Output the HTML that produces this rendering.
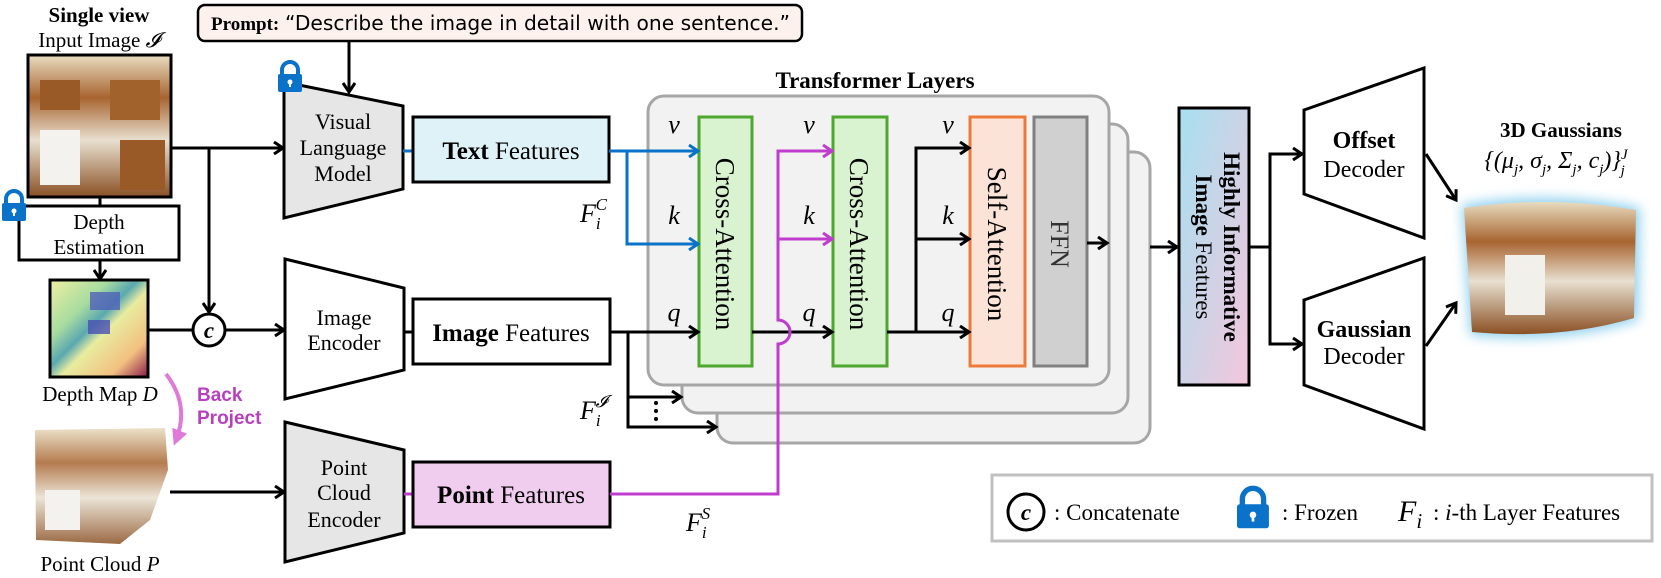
<!DOCTYPE html>
<html><head><meta charset="utf-8"><style>
html,body{margin:0;padding:0;background:#fff;}
svg{display:block;}
text{font-family:"Liberation Serif",serif;}
</style></head><body>
<svg width="1661" height="578" viewBox="0 0 1661 578" xmlns="http://www.w3.org/2000/svg">
<defs>
<marker id="ak" markerWidth="14" markerHeight="14" refX="11" refY="7" orient="auto" markerUnits="userSpaceOnUse"><path d="M2,1 L11,7 L2,13" fill="none" stroke="#000" stroke-width="3"/></marker>
<marker id="ab" markerWidth="14" markerHeight="14" refX="11" refY="7" orient="auto" markerUnits="userSpaceOnUse"><path d="M2,1 L11,7 L2,13" fill="none" stroke="#0a72c8" stroke-width="3"/></marker>
<marker id="ap" markerWidth="14" markerHeight="14" refX="11" refY="7" orient="auto" markerUnits="userSpaceOnUse"><path d="M2,1 L11,7 L2,13" fill="none" stroke="#c03ccf" stroke-width="3"/></marker>
<marker id="apk" markerWidth="20" markerHeight="20" refX="10" refY="10" orient="auto" markerUnits="userSpaceOnUse"><path d="M0,2 L16,10 L0,18 Z" fill="#e07ad8"/></marker>
<linearGradient id="hif" x1="0" y1="0" x2="1" y2="1"><stop offset="0" stop-color="#a6e0f0"/><stop offset="1" stop-color="#f4c6dc"/></linearGradient>
<linearGradient id="dm" x1="0" y1="0" x2="1" y2="1"><stop offset="0" stop-color="#f0f0a0"/><stop offset="0.3" stop-color="#a8dca0"/><stop offset="0.45" stop-color="#5aa8b0"/><stop offset="0.55" stop-color="#e8eca0"/><stop offset="0.8" stop-color="#f2c080"/><stop offset="1" stop-color="#8a1a4a"/></linearGradient>
<linearGradient id="kit" x1="0" y1="0" x2="0" y2="1"><stop offset="0" stop-color="#e8dcc0"/><stop offset="0.3" stop-color="#a86430"/><stop offset="0.6" stop-color="#e8e0d0"/><stop offset="1" stop-color="#8a5024"/></linearGradient>
<filter id="glow"><feGaussianBlur stdDeviation="6"/></filter>
<g id="lock"><path d="M4,14 V9 A8,8 0 0 1 20,9 V14" fill="none" stroke="#0a72c8" stroke-width="4"/><rect x="0" y="13" width="24" height="18" rx="2" fill="#0a72c8"/><circle cx="12" cy="21" r="2.5" fill="#fff"/><rect x="11" y="21" width="2" height="5" fill="#fff"/></g>
</defs>

<!-- Left column -->
<text x="99" y="22" text-anchor="middle" font-size="21" font-weight="bold">Single view</text>
<text x="99" y="47" text-anchor="middle" font-size="21">Input Image <tspan font-style="italic">𝓘</tspan></text>
<rect x="28" y="55" width="143" height="142" fill="url(#kit)" stroke="#000" stroke-width="3"/>
<rect x="40" y="80" width="40" height="30" fill="#9a5a28"/><rect x="110" y="80" width="50" height="40" fill="#a2622c"/>
<rect x="40" y="130" width="40" height="55" fill="#f4f2ee"/><rect x="120" y="140" width="45" height="50" fill="#9a5a28"/>
<line x1="100" y1="197" x2="100" y2="206" stroke="#000" stroke-width="3"/>
<rect x="19" y="206" width="160" height="54" fill="#fff" stroke="#000" stroke-width="3"/>
<text x="99" y="229" text-anchor="middle" font-size="21">Depth</text>
<text x="99" y="254" text-anchor="middle" font-size="21">Estimation</text>
<use href="#lock" x="2" y="190"/>
<line x1="100" y1="260" x2="100" y2="279" stroke="#000" stroke-width="3" marker-end="url(#ak)"/>
<rect x="50" y="280" width="98" height="97" fill="url(#dm)" stroke="#000" stroke-width="3"/>
<rect x="90" y="292" width="30" height="18" fill="#5060b8" opacity="0.8"/>
<rect x="88" y="320" width="22" height="14" fill="#4a50b0" opacity="0.8"/>
<text x="100" y="401" text-anchor="middle" font-size="21">Depth Map <tspan font-style="italic">D</tspan></text>
<path d="M166,374 Q190,405 176,440" fill="none" stroke="#e07ad8" stroke-width="4" marker-end="url(#apk)"/>
<text x="197" y="401" font-size="19" font-weight="bold" fill="#b840c0" style="font-family:'Liberation Sans',sans-serif">Back</text>
<text x="197" y="424" font-size="19" font-weight="bold" fill="#b840c0" style="font-family:'Liberation Sans',sans-serif">Project</text>
<path d="M35,430 L165,428 L168,470 L150,520 L120,544 L36,540 Z" fill="url(#kit)" opacity="0.85"/>
<rect x="45" y="490" width="35" height="40" fill="#f4f2ee"/>
<text x="100" y="571" text-anchor="middle" font-size="21">Point Cloud <tspan font-style="italic">P</tspan></text>

<!-- connectors left -->
<line x1="171" y1="148" x2="283" y2="148" stroke="#000" stroke-width="3" marker-end="url(#ak)"/>
<line x1="209" y1="148" x2="209" y2="312" stroke="#000" stroke-width="3" marker-end="url(#ak)"/>
<line x1="148" y1="330" x2="193" y2="330" stroke="#000" stroke-width="3"/>
<circle cx="209" cy="330" r="16" fill="#fff" stroke="#000" stroke-width="3"/>
<text x="209" y="338" text-anchor="middle" font-size="23" font-weight="bold" font-style="italic">c</text>
<line x1="225" y1="330" x2="284" y2="330" stroke="#000" stroke-width="3" marker-end="url(#ak)"/>
<line x1="170" y1="492" x2="284" y2="492" stroke="#000" stroke-width="3" marker-end="url(#ak)"/>

<!-- Prompt -->
<rect x="198" y="5" width="604" height="36" rx="7" fill="#fdf1ee" stroke="#000" stroke-width="2.5"/>
<text x="211" y="30" font-size="19" font-weight="bold">Prompt:</text>
<text x="285" y="30" font-size="20" style="font-family:'DejaVu Sans',sans-serif" textLength="505" lengthAdjust="spacingAndGlyphs">“Describe the image in detail with one sentence.”</text>
<line x1="349" y1="41" x2="349" y2="92" stroke="#000" stroke-width="3" marker-end="url(#ak)"/>

<!-- Encoders -->
<polygon points="284,82 403,106 403,189 284,218" fill="#e6e6e6" stroke="#000" stroke-width="3"/>
<use href="#lock" x="278" y="61"/>
<text x="343" y="129" text-anchor="middle" font-size="22">Visual</text>
<text x="343" y="155" text-anchor="middle" font-size="22">Language</text>
<text x="343" y="181" text-anchor="middle" font-size="22">Model</text>
<polygon points="285,259 404,288 404,370 285,399" fill="#fff" stroke="#000" stroke-width="3"/>
<text x="344" y="325" text-anchor="middle" font-size="22">Image</text>
<text x="344" y="350" text-anchor="middle" font-size="22">Encoder</text>
<polygon points="285,422 404,450 404,533 285,562" fill="#e6e6e6" stroke="#000" stroke-width="3"/>
<text x="344" y="475" text-anchor="middle" font-size="22">Point</text>
<text x="344" y="500" text-anchor="middle" font-size="22">Cloud</text>
<text x="344" y="527" text-anchor="middle" font-size="22">Encoder</text>

<line x1="403" y1="151" x2="413" y2="151" stroke="#0a72c8" stroke-width="3"/>
<line x1="404" y1="332" x2="413" y2="332" stroke="#000" stroke-width="3"/>
<line x1="404" y1="494" x2="413" y2="494" stroke="#c03ccf" stroke-width="3"/>
<rect x="413" y="117" width="196" height="65" fill="#dff2f7" stroke="#000" stroke-width="3"/>
<text x="511" y="159" text-anchor="middle" font-size="25"><tspan font-weight="bold">Text</tspan> Features</text>
<rect x="413" y="299" width="197" height="65" fill="#fff" stroke="#000" stroke-width="3"/>
<text x="511" y="341" text-anchor="middle" font-size="25"><tspan font-weight="bold">Image</tspan> Features</text>
<rect x="413" y="462" width="197" height="65" fill="#f0cdee" stroke="#000" stroke-width="3"/>
<text x="511" y="503" text-anchor="middle" font-size="25"><tspan font-weight="bold">Point</tspan> Features</text>

<!-- Transformer -->
<text x="875" y="88" text-anchor="middle" font-size="23" font-weight="bold">Transformer Layers</text>
<rect x="717" y="152" width="433" height="291" rx="16" fill="#f2f2f2" stroke="#a6a6a6" stroke-width="3"/>
<rect x="682" y="124" width="446" height="289" rx="16" fill="#f2f2f2" stroke="#a6a6a6" stroke-width="3"/>
<rect x="648" y="96" width="461" height="289" rx="16" fill="#f2f2f2" stroke="#a6a6a6" stroke-width="3"/>
<rect x="699" y="117" width="53" height="249" fill="#d9f2d0" stroke="#4ea72e" stroke-width="3"/>
<rect x="833" y="117" width="54" height="249" fill="#d9f2d0" stroke="#4ea72e" stroke-width="3"/>
<rect x="970" y="117" width="55" height="249" fill="#fce3d8" stroke="#ee7a3a" stroke-width="3"/>
<rect x="1034" y="117" width="53" height="249" fill="#d0d0d0" stroke="#808080" stroke-width="3"/>
<text transform="translate(716,244) rotate(90)" text-anchor="middle" font-size="27">Cross-Attention</text>
<text transform="translate(850,244) rotate(90)" text-anchor="middle" font-size="27">Cross-Attention</text>
<text transform="translate(988,244) rotate(90)" text-anchor="middle" font-size="27">Self-Attention</text>
<text transform="translate(1051,244) rotate(90)" text-anchor="middle" font-size="26" fill="#333">FFN</text>
<g font-size="26" font-style="italic">
<text x="674" y="133" text-anchor="middle">v</text><text x="674" y="224" text-anchor="middle">k</text><text x="674" y="321" text-anchor="middle">q</text>
<text x="809" y="133" text-anchor="middle">v</text><text x="809" y="224" text-anchor="middle">k</text><text x="809" y="321" text-anchor="middle">q</text>
<text x="948" y="133" text-anchor="middle">v</text><text x="948" y="224" text-anchor="middle">k</text><text x="948" y="321" text-anchor="middle">q</text>
</g>
<!-- blue -->
<polyline points="609,151 698,151" fill="none" stroke="#0a72c8" stroke-width="3" marker-end="url(#ab)"/>
<polyline points="627,151 627,244 698,244" fill="none" stroke="#0a72c8" stroke-width="3" marker-end="url(#ab)"/>
<!-- image feature lines -->
<line x1="610" y1="332" x2="698" y2="332" stroke="#000" stroke-width="3" marker-end="url(#ak)"/>
<polyline points="628,332 628,427 716,427" fill="none" stroke="#000" stroke-width="3" marker-end="url(#ak)"/>
<line x1="628" y1="397" x2="681" y2="397" stroke="#000" stroke-width="3" marker-end="url(#ak)"/>
<circle cx="656" cy="403" r="2" fill="#000"/><circle cx="656" cy="411" r="2" fill="#000"/><circle cx="656" cy="419" r="2" fill="#000"/>
<line x1="752" y1="332" x2="832" y2="332" stroke="#000" stroke-width="3" marker-end="url(#ak)"/>
<!-- purple -->
<path d="M610,494 H778 V344 A12,12 0 0 0 778,320 V151 H832" fill="none" stroke="#c03ccf" stroke-width="3" marker-end="url(#ap)"/>
<line x1="778" y1="239" x2="832" y2="239" stroke="#c03ccf" stroke-width="3" marker-end="url(#ap)"/>
<!-- self attention inputs -->
<polyline points="887,332 969,332" fill="none" stroke="#000" stroke-width="3" marker-end="url(#ak)"/>
<polyline points="916,332 916,148 969,148" fill="none" stroke="#000" stroke-width="3" marker-end="url(#ak)"/>
<line x1="916" y1="239" x2="969" y2="239" stroke="#000" stroke-width="3" marker-end="url(#ak)"/>
<line x1="1087" y1="243" x2="1107" y2="243" stroke="#000" stroke-width="3" marker-end="url(#ak)"/>
<!-- F labels -->
<text x="580" y="222" font-size="26" font-style="italic">F<tspan font-size="17" dy="7">i</tspan><tspan font-size="17" dx="-5" dy="-19">C</tspan></text>
<text x="580" y="419" font-size="26" font-style="italic">F<tspan font-size="17" dy="7">i</tspan><tspan font-size="17" dx="-5" dy="-19">𝓘</tspan></text>
<text x="686" y="531" font-size="26" font-style="italic">F<tspan font-size="17" dy="7">i</tspan><tspan font-size="17" dx="-5" dy="-19">S</tspan></text>

<!-- Right -->
<line x1="1150" y1="247" x2="1177" y2="247" stroke="#000" stroke-width="3" marker-end="url(#ak)"/>
<rect x="1179" y="108" width="70" height="277" fill="url(#hif)" stroke="#000" stroke-width="3"/>
<text transform="translate(1224,247) rotate(90)" text-anchor="middle" font-size="23" font-weight="bold">Highly Informative</text>
<text transform="translate(1196,247) rotate(90)" text-anchor="middle" font-size="23"><tspan font-weight="bold">Image</tspan> Features</text>
<polyline points="1249,247 1270,247" fill="none" stroke="#000" stroke-width="3"/>
<polyline points="1270,247 1270,154 1302,154" fill="none" stroke="#000" stroke-width="3" marker-end="url(#ak)"/>
<polyline points="1270,247 1270,344 1302,344" fill="none" stroke="#000" stroke-width="3" marker-end="url(#ak)"/>
<polygon points="1304,110 1424,68 1424,238 1304,194" fill="#fff" stroke="#000" stroke-width="3"/>
<text x="1364" y="148" text-anchor="middle" font-size="24" font-weight="bold">Offset</text>
<text x="1364" y="177" text-anchor="middle" font-size="24">Decoder</text>
<polygon points="1304,300 1424,258 1424,429 1304,385" fill="#fff" stroke="#000" stroke-width="3"/>
<text x="1364" y="337" text-anchor="middle" font-size="24" font-weight="bold">Gaussian</text>
<text x="1364" y="364" text-anchor="middle" font-size="24">Decoder</text>
<line x1="1426" y1="154" x2="1456" y2="200" stroke="#000" stroke-width="3" marker-end="url(#ak)"/>
<line x1="1426" y1="346" x2="1456" y2="303" stroke="#000" stroke-width="3" marker-end="url(#ak)"/>
<text x="1561" y="137" text-anchor="middle" font-size="21" font-weight="bold">3D Gaussians</text>
<text x="1556" y="168" text-anchor="middle" font-size="24" font-style="italic">{(μ<tspan font-size="15" dy="6">j</tspan><tspan dy="-6">, σ</tspan><tspan font-size="15" dy="6">j</tspan><tspan dy="-6">, Σ</tspan><tspan font-size="15" dy="6">j</tspan><tspan dy="-6">, c</tspan><tspan font-size="15" dy="6">j</tspan><tspan dy="-6">)}</tspan><tspan font-size="15" dy="-9">J</tspan><tspan font-size="15" dx="-7" dy="16">j</tspan></text>
<path d="M1462,205 Q1550,190 1640,208 L1638,320 Q1560,345 1470,335 Z" fill="#8fd0ee" filter="url(#glow)"/>
<path d="M1464,208 Q1550,195 1636,210 L1634,318 Q1560,340 1472,332 Z" fill="url(#kit)"/>
<rect x="1505" y="255" width="40" height="60" fill="#f2f0ea"/>

<!-- Legend -->
<rect x="992" y="475" width="660" height="66" fill="#fff" stroke="#c0c0c0" stroke-width="3"/>
<circle cx="1026" cy="512" r="18" fill="#fff" stroke="#000" stroke-width="3"/>
<text x="1026" y="520" text-anchor="middle" font-size="23" font-weight="bold" font-style="italic">c</text>
<text x="1054" y="520" font-size="23">: Concatenate</text>
<g transform="translate(1237,487) scale(1.33)"><use href="#lock"/></g>
<text x="1282" y="520" font-size="23">: Frozen</text>
<text x="1398" y="521" font-size="30" font-style="italic">F<tspan font-size="21" dy="7">i</tspan></text>
<text x="1433" y="520" font-size="23">: <tspan font-style="italic">i</tspan>-th Layer Features</text>
</svg>
</body></html>
